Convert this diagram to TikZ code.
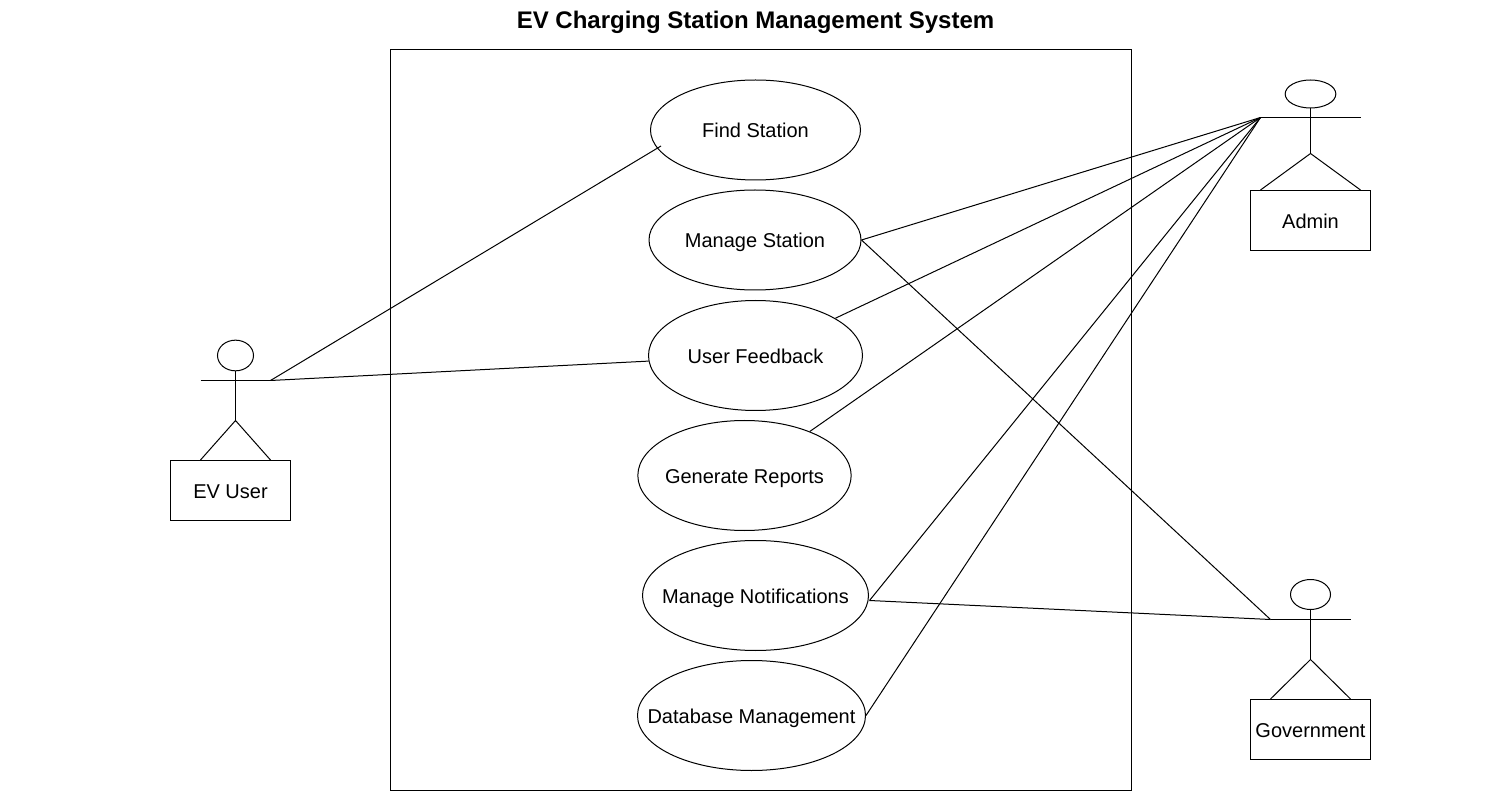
\documentclass[tikz,border=0pt]{standalone}
\usepackage{fontspec}
\setmainfont{Liberation Sans}
\usetikzlibrary{shapes.geometric}
\tikzset{
    usecase/.style={draw, ellipse, inner sep=0pt},
    casetext/.style={inner sep=0pt, text height=12pt, text depth=0pt, font=\fontsize{15}{18}\selectfont},
    actorbox/.style={draw, rectangle, inner sep=0pt, minimum width=90pt, minimum height=45pt, text height=12pt, text depth=0pt, font=\fontsize{15}{18}\selectfont},
    head/.style={draw, ellipse, inner sep=0pt}
}
\begin{document}
\begin{tikzpicture}[x=0.75pt, y=-0.75pt, line width=0.75pt]
    \useasboundingbox (0,0) rectangle (1510,791);
    \node[font=\bfseries\fontsize{18}{22}\selectfont] (title) at (755.5,22.5) {EV Charging Station Management System};
    \draw (390.5,50) rectangle (1131.5,790.5);
    % use cases
    \node[usecase, minimum width=157.5pt, minimum height=75pt] (find) at (755.5,130) {};
    \node[casetext] (findtext) at (find) {Find Station};
    \node[usecase, minimum width=159pt, minimum height=75pt] (station) at (755,240) {};
    \node[casetext] (stationtext) at (station) {Manage Station};
    \node[usecase, minimum width=160.5pt, minimum height=82.5pt] (feedback) at (755.5,355.5) {};
    \node[casetext] (feedbacktext) at (feedback) {User Feedback};
    \node[usecase, minimum width=160pt, minimum height=82.5pt] (reports) at (744.5,475.5) {};
    \node[casetext] (reportstext) at (reports) {Generate Reports};
    \node[usecase, minimum width=169.5pt, minimum height=82.5pt] (notify) at (755.5,595.5) {};
    \node[casetext] (notifytext) at (notify) {Manage Notifications};
    \node[usecase, minimum width=171pt, minimum height=82.5pt] (database) at (751.5,715.5) {};
    \node[casetext] (databasetext) at (database) {Database Management};
    % EV user
    \node[head, minimum width=27pt, minimum height=23pt] (userhead) at (235.5,355.5) {};
    \node[actorbox] (userbox) at (230.5,490.5) {EV User};
    \coordinate (userleft) at (200.5,380.5);
    \coordinate (userright) at (270.5,380.5);
    \coordinate (userhip) at (235.5,420.5);
    \draw (userleft) -- (userright);
    \draw (userhead) -- (userhip);
    \draw (userbox.north -| userleft) -- (userhip) -- (userbox.north -| userright);
    % admin
    \node[head, minimum width=38pt, minimum height=21pt] (adminhead) at (1310.5,94) {};
    \node[actorbox] (adminbox) at (1310.5,220.5) {Admin};
    \coordinate (adminleft) at (1260.5,117.5);
    \coordinate (adminright) at (1360.5,117.5);
    \coordinate (adminhip) at (1310.5,153.5);
    \draw (adminleft) -- (adminright);
    \draw (adminhead) -- (adminhip);
    \draw (adminbox.north -| adminleft) -- (adminhip) -- (adminbox.north -| adminright);
    % government
    \node[head, minimum width=30pt, minimum height=22.5pt] (govhead) at (1310.5,594.5) {};
    \node[actorbox] (govbox) at (1310.5,729.5) {Government};
    \coordinate (govleft) at (1270.5,619.5);
    \coordinate (govright) at (1350.5,619.5);
    \coordinate (govhip) at (1310.5,659.5);
    \draw (govleft) -- (govright);
    \draw (govhead) -- (govhip);
    \draw (govbox.north -| govleft) -- (govhip) -- (govbox.north -| govright);
    % connectors
    \coordinate (findend) at (661,146);
    \coordinate (notifyend) at (869.5,600.5);
    \draw (userright) -- (findend);
    \draw (userright) -- (feedback.183);
    \draw (adminleft) -- (station.east);
    \draw (adminleft) -- (feedback.25);
    \draw (adminleft) -- (reports.34);
    \draw (adminleft) -- (notifyend);
    \draw (adminleft) -- (database.east);
    \draw (station.east) -- (govleft);
    \draw (notifyend) -- (govleft);
\end{tikzpicture}
\end{document}
